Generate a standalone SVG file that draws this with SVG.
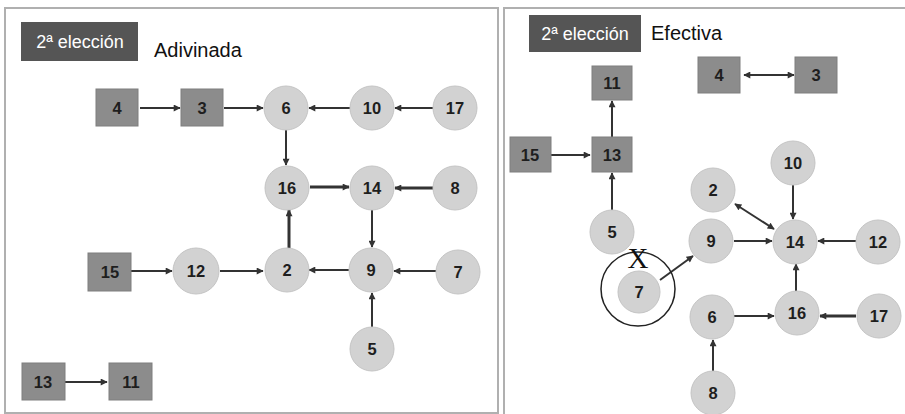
<svg xmlns="http://www.w3.org/2000/svg" width="905" height="414" viewBox="0 0 905 414">
<style>
.sq{fill:#8c8c8c;stroke:#7e7e7e;stroke-width:1}
.ci{fill:#d2d2d2;stroke:#c4c4c4;stroke-width:1}
.lb{font-family:"Liberation Sans",Arial,sans-serif;font-weight:bold;font-size:16.5px;fill:#1e1e1e;text-anchor:middle}
.hd{fill:#555555}
.ht{font-family:"Liberation Sans",Arial,sans-serif;font-size:18px;fill:#ffffff;text-anchor:middle}
.tt{font-family:"Liberation Sans",Arial,sans-serif;font-size:20px;fill:#111111}
.ed line{stroke:#333333;stroke-width:2;marker-end:url(#ah)}
</style>
<defs>
<marker id="ah" viewBox="0 0 10 10" refX="9" refY="5" markerWidth="8" markerHeight="7" markerUnits="userSpaceOnUse" orient="auto">
<path d="M0,0 L10,5 L0,10 z" fill="#333333"/>
</marker>
<marker id="as" viewBox="0 0 10 10" refX="1" refY="5" markerWidth="8" markerHeight="7" markerUnits="userSpaceOnUse" orient="auto">
<path d="M10,0 L0,5 L10,10 z" fill="#333333"/>
</marker>
</defs>
<rect width="905" height="414" fill="#ffffff"/>
<g id="panels" fill="none" stroke="#b0b0b0" stroke-width="2">
<rect x="5" y="8" width="493" height="405"/>
<path d="M504,414 L504,8 L905,8"/>
</g>
<g id="header-left">
<rect class="hd" x="21" y="22" width="117" height="39"/>
<text class="ht" x="80" y="48">2ª elección</text>
<text class="tt" x="154" y="57">Adivinada</text>
</g>
<g id="header-right">
<rect class="hd" x="529" y="15" width="112" height="37"/>
<text class="ht" x="585" y="40">2ª elección</text>
<text class="tt" x="651" y="40">Efectiva</text>
</g>
<g class="ed" id="connectors">
<line x1="140" y1="108" x2="180" y2="108"/>
<line x1="224" y1="108" x2="263" y2="108"/>
<line x1="350" y1="108" x2="309" y2="108"/>
<line x1="433" y1="108" x2="395" y2="108"/>
<line x1="286" y1="130" x2="286" y2="165"/>
<line x1="310" y1="187" x2="349" y2="187" style="stroke-width:3"/>
<line x1="433" y1="188" x2="395" y2="188" style="stroke-width:3"/>
<line x1="372" y1="210" x2="372" y2="247"/>
<line x1="349" y1="270" x2="309" y2="270"/>
<line x1="436" y1="271" x2="394" y2="271"/>
<line x1="372" y1="327" x2="372" y2="293"/>
<line x1="289" y1="248" x2="289" y2="210" style="stroke-width:3"/>
<line x1="131" y1="271" x2="172" y2="271"/>
<line x1="220" y1="271" x2="263" y2="271"/>
<line x1="65" y1="382" x2="107" y2="382"/>
<line x1="612" y1="137" x2="612" y2="101"/>
<line x1="551" y1="155" x2="590" y2="155"/>
<line x1="612" y1="210" x2="612" y2="173"/>
<line x1="744" y1="75" x2="794" y2="75" style="marker-start:url(#as)"/>
<line x1="793" y1="185" x2="793" y2="219"/>
<line x1="735" y1="204" x2="774" y2="229" style="marker-start:url(#as)"/>
<line x1="734" y1="241" x2="772" y2="241"/>
<line x1="856" y1="241" x2="818" y2="241"/>
<line x1="796" y1="291" x2="796" y2="264"/>
<line x1="660" y1="280" x2="693" y2="256"/>
<line x1="734" y1="316" x2="774" y2="316"/>
<line x1="856" y1="316" x2="820" y2="316" style="stroke-width:3"/>
<line x1="713" y1="371" x2="713" y2="340"/>
</g>
<g id="L4"><rect class="sq" x="96" y="89" width="42" height="37"/><text class="lb" x="117" y="114">4</text></g>
<g id="L3"><rect class="sq" x="181" y="89" width="42" height="37"/><text class="lb" x="202" y="114">3</text></g>
<g id="L6"><circle class="ci" cx="286" cy="108" r="22"/><text class="lb" x="286" y="114">6</text></g>
<g id="L10"><circle class="ci" cx="372" cy="108" r="22"/><text class="lb" x="372" y="114">10</text></g>
<g id="L17"><circle class="ci" cx="455" cy="108" r="22"/><text class="lb" x="455" y="114">17</text></g>
<g id="L16"><circle class="ci" cx="287" cy="188" r="22"/><text class="lb" x="287" y="194">16</text></g>
<g id="L14"><circle class="ci" cx="372" cy="188" r="22"/><text class="lb" x="372" y="194">14</text></g>
<g id="L8"><circle class="ci" cx="455" cy="188" r="22"/><text class="lb" x="455" y="194">8</text></g>
<g id="L15"><rect class="sq" x="88" y="253" width="43" height="38"/><text class="lb" x="110" y="278">15</text></g>
<g id="L12"><circle class="ci" cx="196" cy="271" r="23"/><text class="lb" x="196" y="277">12</text></g>
<g id="L2"><circle class="ci" cx="287" cy="270" r="22"/><text class="lb" x="287" y="276">2</text></g>
<g id="L9"><circle class="ci" cx="371" cy="270" r="22"/><text class="lb" x="371" y="276">9</text></g>
<g id="L7"><circle class="ci" cx="458" cy="272" r="22"/><text class="lb" x="458" y="278">7</text></g>
<g id="L5"><circle class="ci" cx="372" cy="349" r="22"/><text class="lb" x="372" y="355">5</text></g>
<g id="L13"><rect class="sq" x="22" y="363" width="43" height="37"/><text class="lb" x="43" y="388">13</text></g>
<g id="L11"><rect class="sq" x="109" y="363" width="43" height="37"/><text class="lb" x="131" y="388">11</text></g>
<g id="R11"><rect class="sq" x="592" y="66" width="40" height="34"/><text class="lb" x="612" y="89">11</text></g>
<g id="R13"><rect class="sq" x="592" y="137" width="40" height="35"/><text class="lb" x="612" y="161">13</text></g>
<g id="R15"><rect class="sq" x="510" y="137" width="41" height="35"/><text class="lb" x="530" y="161">15</text></g>
<g id="R4"><rect class="sq" x="698" y="57" width="42" height="36"/><text class="lb" x="719" y="81">4</text></g>
<g id="R3"><rect class="sq" x="795" y="57" width="42" height="36"/><text class="lb" x="816" y="81">3</text></g>
<g id="R10"><circle class="ci" cx="793" cy="163" r="22"/><text class="lb" x="793" y="169">10</text></g>
<g id="R2"><circle class="ci" cx="713" cy="190" r="22"/><text class="lb" x="713" y="196">2</text></g>
<g id="R5"><circle class="ci" cx="612" cy="232" r="22"/><text class="lb" x="612" y="238">5</text></g>
<g id="R9"><circle class="ci" cx="711" cy="241" r="22"/><text class="lb" x="711" y="247">9</text></g>
<g id="R14"><circle class="ci" cx="795" cy="242" r="22"/><text class="lb" x="795" y="248">14</text></g>
<g id="R12"><circle class="ci" cx="878" cy="242" r="22"/><text class="lb" x="878" y="248">12</text></g>
<g id="R7">
<circle cx="638" cy="289" r="37" fill="none" stroke="#222222" stroke-width="1.5"/>
<circle class="ci" cx="639" cy="292" r="21"/><text class="lb" x="639" y="298">7</text>
<text x="638" y="268" font-family="'Liberation Serif','Times New Roman',serif" font-size="29" fill="#111111" text-anchor="middle">X</text>
</g>
<g id="R6"><circle class="ci" cx="712" cy="317" r="22"/><text class="lb" x="712" y="323">6</text></g>
<g id="R16"><circle class="ci" cx="797" cy="313" r="22"/><text class="lb" x="797" y="319">16</text></g>
<g id="R17"><circle class="ci" cx="879" cy="316" r="22"/><text class="lb" x="879" y="322">17</text></g>
<g id="R8"><circle class="ci" cx="713" cy="393" r="22"/><text class="lb" x="713" y="399">8</text></g>
</svg>
